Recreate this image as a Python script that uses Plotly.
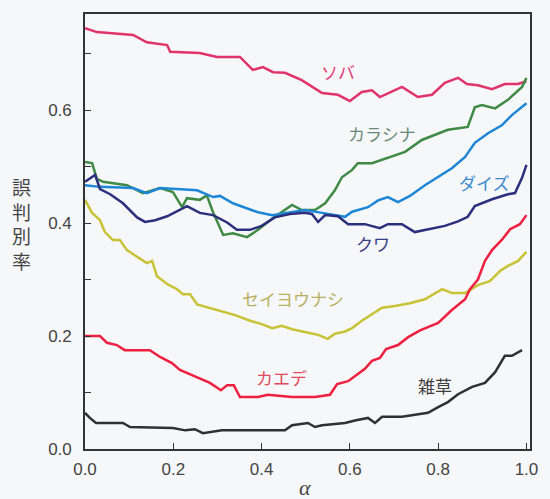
import plotly.graph_objects as go

# Misclassification rate vs. alpha for each plant species
soba_a = [0.0, 0.027, 0.109, 0.14, 0.186, 0.193, 0.26, 0.299, 0.351, 0.38, 0.403, 0.426, 0.453,
          0.491, 0.537, 0.573, 0.60, 0.627, 0.65, 0.668, 0.718, 0.754, 0.786, 0.815, 0.845,
          0.865, 0.89, 0.922, 0.951, 0.981, 1.0]
soba_v = [0.745, 0.738, 0.733, 0.720, 0.715, 0.703, 0.701, 0.694, 0.694, 0.671, 0.676, 0.667, 0.666,
          0.653, 0.630, 0.627, 0.616, 0.632, 0.635, 0.623, 0.641, 0.623, 0.627, 0.648, 0.657,
          0.646, 0.644, 0.637, 0.646, 0.646, 0.651]

karashina_a = [0.0, 0.016, 0.027, 0.041, 0.095, 0.131, 0.17, 0.199, 0.22, 0.231, 0.26, 0.276,
               0.29, 0.313, 0.335, 0.367, 0.392, 0.426, 0.469, 0.491, 0.521, 0.544, 0.566,
               0.582, 0.605, 0.618, 0.65, 0.686, 0.725, 0.763, 0.793, 0.822, 0.867, 0.883,
               0.899, 0.929, 0.958, 0.99, 1.0]
karashina_v = [0.508, 0.506, 0.478, 0.473, 0.467, 0.453, 0.462, 0.455, 0.428, 0.444, 0.441, 0.449,
               0.419, 0.379, 0.382, 0.375, 0.388, 0.409, 0.432, 0.423, 0.423, 0.435, 0.458,
               0.481, 0.494, 0.506, 0.506, 0.515, 0.526, 0.547, 0.556, 0.565, 0.570, 0.605,
               0.609, 0.603, 0.618, 0.641, 0.657]

daizu_a = [0.0, 0.034, 0.109, 0.14, 0.17, 0.254, 0.29, 0.306, 0.335, 0.367, 0.392, 0.424, 0.453,
           0.498, 0.537, 0.589, 0.605, 0.641, 0.664, 0.686, 0.709, 0.736, 0.77, 0.80, 0.831,
           0.861, 0.883, 0.913, 0.944, 0.967, 0.99, 1.0]
daizu_v = [0.467, 0.464, 0.462, 0.453, 0.462, 0.458, 0.446, 0.448, 0.435, 0.426, 0.419, 0.414, 0.418,
           0.423, 0.418, 0.411, 0.420, 0.428, 0.440, 0.446, 0.437, 0.448, 0.467, 0.481, 0.497,
           0.517, 0.542, 0.559, 0.573, 0.591, 0.605, 0.612]

kuwa_a = [0.0, 0.023, 0.034, 0.057, 0.086, 0.118, 0.136, 0.159, 0.186, 0.215, 0.231, 0.26, 0.29,
          0.322, 0.344, 0.374, 0.40, 0.43, 0.464, 0.498, 0.514, 0.528, 0.544, 0.573, 0.596,
          0.634, 0.668, 0.686, 0.718, 0.747, 0.781, 0.815, 0.845, 0.867, 0.883, 0.922, 0.958,
          0.974, 0.99, 1.0]
kuwa_v = [0.473, 0.485, 0.460, 0.451, 0.435, 0.410, 0.402, 0.405, 0.412, 0.423, 0.430, 0.418, 0.414,
          0.401, 0.388, 0.388, 0.395, 0.410, 0.416, 0.418, 0.416, 0.402, 0.414, 0.412, 0.398,
          0.398, 0.391, 0.398, 0.398, 0.384, 0.389, 0.395, 0.403, 0.411, 0.430, 0.442, 0.451,
          0.453, 0.480, 0.503]

seiyounashi_a = [0.0, 0.016, 0.034, 0.045, 0.063, 0.079, 0.095, 0.118, 0.14, 0.152, 0.163, 0.186,
                 0.208, 0.222, 0.238, 0.254, 0.283, 0.31, 0.34, 0.374, 0.40, 0.424, 0.446, 0.469,
                 0.498, 0.528, 0.55, 0.566, 0.589, 0.605, 0.627, 0.65, 0.673, 0.702, 0.736,
                 0.77, 0.809, 0.831, 0.861, 0.89, 0.917, 0.94, 0.958, 0.981, 1.0]
seiyounashi_v = [0.441, 0.418, 0.405, 0.384, 0.370, 0.370, 0.352, 0.340, 0.329, 0.333, 0.306, 0.292,
                 0.283, 0.274, 0.274, 0.256, 0.250, 0.244, 0.237, 0.227, 0.221, 0.214, 0.218, 0.212,
                 0.207, 0.202, 0.195, 0.204, 0.208, 0.214, 0.227, 0.239, 0.250, 0.253, 0.258,
                 0.265, 0.283, 0.276, 0.276, 0.290, 0.297, 0.315, 0.324, 0.333, 0.349]

kaede_a = [0.0, 0.034, 0.05, 0.072, 0.09, 0.147, 0.17, 0.197, 0.215, 0.249, 0.283, 0.308, 0.322,
           0.337, 0.351, 0.392, 0.414, 0.469, 0.521, 0.555, 0.571, 0.596, 0.614, 0.634, 0.65,
           0.668, 0.682, 0.709, 0.732, 0.759, 0.80, 0.831, 0.861, 0.872, 0.89, 0.906, 0.922,
           0.944, 0.963, 0.985, 1.0]
kaede_v = [0.200, 0.200, 0.188, 0.184, 0.175, 0.175, 0.163, 0.152, 0.140, 0.129, 0.117, 0.104, 0.113,
           0.113, 0.092, 0.092, 0.096, 0.092, 0.092, 0.096, 0.115, 0.120, 0.131, 0.142, 0.156,
           0.161, 0.177, 0.184, 0.198, 0.210, 0.223, 0.246, 0.265, 0.283, 0.300, 0.333, 0.352,
           0.370, 0.389, 0.398, 0.414]

zassou_a = [0.0, 0.011, 0.025, 0.086, 0.102, 0.199, 0.227, 0.249, 0.267, 0.29, 0.31, 0.453, 0.469,
            0.505, 0.521, 0.537, 0.589, 0.614, 0.641, 0.657, 0.673, 0.718, 0.747, 0.777, 0.80,
            0.822, 0.845, 0.877, 0.906, 0.929, 0.951, 0.967, 0.99]
zassou_v = [0.064, 0.055, 0.046, 0.046, 0.039, 0.037, 0.033, 0.035, 0.028, 0.030, 0.033, 0.033, 0.042,
            0.046, 0.039, 0.042, 0.046, 0.051, 0.055, 0.046, 0.057, 0.057, 0.060, 0.064, 0.074,
            0.083, 0.097, 0.110, 0.117, 0.136, 0.165, 0.165, 0.175]

y_tick_vals = [0.0, 0.1, 0.2, 0.3, 0.4, 0.5, 0.6, 0.7]
y_tick_text = ["0.0", "", "0.2", "", "0.4", "", "0.6", ""]
x_tick_vals = [0.0, 0.2, 0.4, 0.6, 0.8, 1.0]
x_tick_text = ["0.0", "0.2", "0.4", "0.6", "0.8", "1.0"]

series = [
    (soba_a, soba_v, "#e0336a"),
    (karashina_a, karashina_v, "#3f8a45"),
    (daizu_a, daizu_v, "#1d86d6"),
    (kuwa_a, kuwa_v, "#2b2f7d"),
    (seiyounashi_a, seiyounashi_v, "#c8c236"),
    (kaede_a, kaede_v, "#ee2040"),
    (zassou_a, zassou_v, "#303030"),
]

# Inline labels: (text, alpha, value, colour)
labels = [
    ("ソバ", 0.572, 0.668, "#e0407a"),
    ("カラシナ", 0.673, 0.559, "#6a8a78"),
    ("ダイズ", 0.904, 0.471, "#3a8ad0"),
    ("クワ", 0.652, 0.364, "#3a3d85"),
    ("セイヨウナシ", 0.471, 0.267, "#b8b060"),
    ("カエデ", 0.446, 0.126, "#e04a5a"),
    ("雑草", 0.793, 0.113, "#404040"),
]

fig = go.Figure()
for a, v, c in series:
    fig.add_trace(go.Scatter(x=a, y=v, mode="lines",
                             line=dict(color=c, width=2.5), showlegend=False,
                             hoverinfo="skip"))

for text, a, v, c in labels:
    fig.add_annotation(x=a, y=v, xref="x", yref="y", text=text, showarrow=False,
                       font=dict(family="Noto Sans CJK JP", size=17, color=c))

# Vertical y-axis title, one character per line
fig.add_annotation(x=21, y=224, xref="paper", yref="paper", text="誤<br>判<br>別<br>率",
                   xanchor="center", yanchor="middle",
                   showarrow=False, font=dict(family="Noto Sans CJK JP", size=19, color="#444"))
fig.add_annotation(x=305, y=487, xref="paper", yref="paper", text="<i>α</i>",
                   xanchor="center", yanchor="middle",
                   showarrow=False, font=dict(family="Liberation Serif", size=22, color="#444"))

axis_common = dict(showline=True, linecolor="#333", linewidth=1.6, mirror=True,
                   ticks="inside", ticklen=6, tickwidth=1.4, tickcolor="#333",
                   showgrid=False, zeroline=False,
                   tickfont=dict(family="Liberation Sans", size=17, color="#444"))

fig.update_layout(
    width=550, height=499,
    margin=dict(l=85, r=20, t=14, b=50),
    paper_bgcolor="#f6f7f9", plot_bgcolor="#f6f7f9",
    xaxis=dict(range=[0, 1.008], tickvals=x_tick_vals, ticktext=x_tick_text,
               ticklabelstandoff=4, **axis_common),
    yaxis=dict(range=[0, 0.77], tickvals=y_tick_vals, ticktext=y_tick_text,
               ticklabelstandoff=8, **axis_common),
)

# Paper-pixel annotations: convert to paper fractions
for ann in fig.layout.annotations:
    if ann.xref == "paper":
        px, py = ann.x, ann.y
        ann.x = (px - 85) / (550 - 85 - 20)
        ann.y = (499 - 50 - py) / (499 - 14 - 50)

fig.write_html("out.html")
